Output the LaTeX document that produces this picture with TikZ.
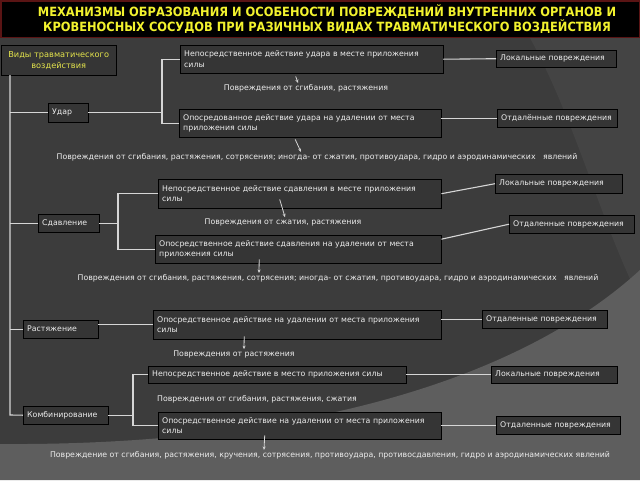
\documentclass[tikz,border=0pt]{standalone}
\usepackage{fontspec}
\setmainfont{DejaVu Sans}
\newfontfamily\titlefont{DejaVu Sans Condensed}
\usetikzlibrary{arrows.meta}
\definecolor{bgdark}{HTML}{3C3C3C}
\definecolor{bgmid}{HTML}{444444}
\definecolor{bglight}{HTML}{5E5E5E}
\definecolor{boxfill}{HTML}{353535}
\definecolor{boxtext}{HTML}{EDEDED}
\definecolor{linegrey}{HTML}{D6D6D6}
\definecolor{titleyellow}{HTML}{F2F22E}
\definecolor{headyellow}{HTML}{E4E44C}
\definecolor{titleframe}{HTML}{5A1414}

\begin{document}
\begin{tikzpicture}[x=1pt,y=-1pt,
    box/.style={draw=black, fill=boxfill, text=boxtext, anchor=north west, align=left,
        inner xsep=4pt, inner ysep=1pt, font=\fontsize{7.8}{10.5}\selectfont},
    note/.style={text=boxtext, inner sep=1pt, font=\fontsize{7.8}{9}\selectfont},
    link/.style={draw=linegrey, line width=1.1pt},
    pointer/.style={draw=linegrey, line width=0.8pt, -{Stealth[length=3.5pt,width=3pt]}}]

    % background
    \fill[bgdark] (0,0) rectangle (640,480);
    \fill[bgmid] (530,38) .. controls (575,120) and (600,220) .. (640,300) -- (640,38) -- cycle;
    \fill[bglight] (0,444) .. controls (300,446) and (520,380) .. (640,270) -- (640,480) -- (0,480) -- cycle;
    \fill[black, draw=titleframe, line width=1.5pt] (0.75,0.75) rectangle (639.25,37.5);

    \coordinate (trunkTop) at (10,75);
    \coordinate (trunkEnd) at (10,415);
    \coordinate (udarFork) at (162,100);
    \coordinate (sdavFork) at (118,220);
    \coordinate (kombiFork) at (133,400);

%title
    \node (titleTxt) at (327,19) [text=titleyellow, align=center,
        font=\titlefont\bfseries\fontsize{12.7}{15}\selectfont]
        {МЕХАНИЗМЫ ОБРАЗОВАНИЯ И ОСОБЕНОСТИ ПОВРЕЖДЕНИЙ ВНУТРЕННИХ ОРГАНОВ И\\
         КРОВЕНОСНЫХ СОСУДОВ ПРИ РАЗИЧНЫХ ВИДАХ ТРАВМАТИЧЕСКОГО ВОЗДЕЙСТВИЯ};

%boxes
    \node (vidy) at (1,45) [box, text=headyellow, align=center, text width=107pt, minimum height=30pt,
        font=\fontsize{8.2}{11}\selectfont] {Виды травматического\\воздействия};

    \node (udar) at (48,103) [box, text width=32pt, minimum height=19pt] {Удар};
    \node (udarDirect) at (180,45) [box, text width=255pt, minimum height=28pt]
        {Непосредственное действие удара в месте приложения\\силы};
    \node (udarLocal) at (496,50) [box, text width=112pt, minimum height=17pt] {Локальные повреждения};
    \node (udarIndirect) at (179,109) [box, text width=254pt, minimum height=28pt]
        {Опосредованное действие удара на удалении от места\\приложения силы};
    \node (udarRemote) at (497,109) [box, text width=112pt, minimum height=18pt] {Отдалённые повреждения};

    \node (sdav) at (38,214) [box, text width=53pt, minimum height=18pt] {Сдавление};
    \node (sdavDirect) at (158,179) [box, text width=275pt, minimum height=29pt]
        {Непосредственное действие сдавления в месте приложения\\силы};
    \node (sdavLocal) at (495,174) [box, text width=119pt, minimum height=19pt] {Локальные повреждения};
    \node (sdavIndirect) at (155,235) [box, text width=278pt, minimum height=28pt]
        {Опосредственное действие сдавления на удалении от места\\приложения силы};
    \node (sdavRemote) at (509,215) [box, text width=117pt, minimum height=18pt] {Отдаленные повреждения};

    \node (rast) at (23,320) [box, text width=67pt, minimum height=18pt] {Растяжение};
    \node (rastIndirect) at (153,310) [box, text width=280pt, minimum height=29pt]
        {Опосредственное действие на удалении от места приложения\\силы};
    \node (rastRemote) at (482,310) [box, text width=117pt, minimum height=18pt] {Отдаленные повреждения};

    \node (kombi) at (23,406) [box, text width=77pt, minimum height=18pt] {Комбинирование};
    \node (kombiDirect) at (148,366) [box, text width=250pt, minimum height=17pt]
        {Непосредственное действие в место приложения силы};
    \node (kombiLocal) at (491,366) [box, text width=118pt, minimum height=17pt] {Локальные повреждения};
    \node (kombiIndirect) at (158,412) [box, text width=275pt, minimum height=27pt]
        {Опосредственное действие на удалении от места приложения\\силы};
    \node (kombiRemote) at (496,416) [box, text width=116pt, minimum height=18pt] {Отдаленные повреждения};

%labels
    \node (udarLbl1) at (306,88) [note] {Повреждения от сгибания, растяжения};
    \node (udarLbl2) at (317,157) [note] {Повреждения от сгибания, растяжения, сотрясения; иногда- от сжатия, противоудара, гидро и аэродинамических \ \ явлений};
    \node (sdavLbl1) at (283,222) [note] {Повреждения от сжатия, растяжения};
    \node (sdavLbl2) at (338,278) [note] {Повреждения от сгибания, растяжения, сотрясения; иногда- от сжатия, противоудара, гидро и аэродинамических \ \ явлений};
    \node (rastLbl) at (234,354) [note] {Повреждения от растяжения};
    \node (kombiLbl1) at (257,399) [note] {Повреждения от сгибания, растяжения, сжатия};
    \node (kombiLbl2) at (330,455) [note] {Повреждение от сгибания, растяжения, кручения, сотрясения, противоудара, противосдавления, гидро и аэродинамических явлений};

%links
    \draw[link] (trunkTop) -- (trunkEnd) -- (kombi.west);
    \draw[link] (udar.west -| trunkTop) -- (udar.west);
    \draw[link] (sdav.west -| trunkTop) -- (sdav.west);
    \draw[link] (rast.west -| trunkTop) -- (rast.west);

    \draw[link] (udar.east) -- (udar.east -| udarFork);
    \draw[link] (udarDirect.west) -| (udarFork) |- (udarIndirect.west);
    \draw[link] (udarDirect.east) -- (udarLocal.west);
    \draw[link] (udarRemote.west -| udarIndirect.east) -- (udarRemote.west);

    \draw[link] (sdav.east) -- (sdav.east -| sdavFork);
    \draw[link] (sdavDirect.west) -| (sdavFork) |- (sdavIndirect.west);
    \draw[link] (sdavDirect.east) -- (sdavLocal.west);
    \draw[link] ([yshift=10pt]sdavIndirect.east) -- (sdavRemote.west);

    \draw[link] (rastIndirect.west -| rast.east) -- (rastIndirect.west);
    \draw[link] (rastRemote.west -| rastIndirect.east) -- (rastRemote.west);

    \draw[link] (kombi.east) -- (kombi.east -| kombiFork);
    \draw[link] (kombiDirect.west) -| (kombiFork) |- (kombiIndirect.west);
    \draw[link] (kombiDirect.east) -- (kombiLocal.west);
    \draw[link] (kombiRemote.west -| kombiIndirect.east) -- (kombiRemote.west);

%arrows
    \draw[pointer] ([xshift=-16pt,yshift=-3pt]udarDirect.south) -- ([xshift=-8pt]udarLbl1.north);
    \draw[pointer] ([xshift=-15pt,yshift=-2pt]udarIndirect.south) -- ([xshift=-16pt]udarLbl2.north);
    \draw[pointer] ([xshift=-20pt,yshift=9pt]sdavDirect.south) -- ([xshift=2pt]sdavLbl1.north);
    \draw[pointer] ([xshift=-39pt,yshift=4pt]sdavIndirect.south) -- ([xshift=-79pt]sdavLbl2.north);
    \draw[pointer] ([xshift=-53pt,yshift=3pt]rastIndirect.south) -- ([xshift=10pt]rastLbl.north);
    \draw[pointer] ([xshift=-35pt,yshift=4pt]kombiIndirect.south) -- ([xshift=-66pt]kombiLbl2.north);
\end{tikzpicture}
\end{document}
